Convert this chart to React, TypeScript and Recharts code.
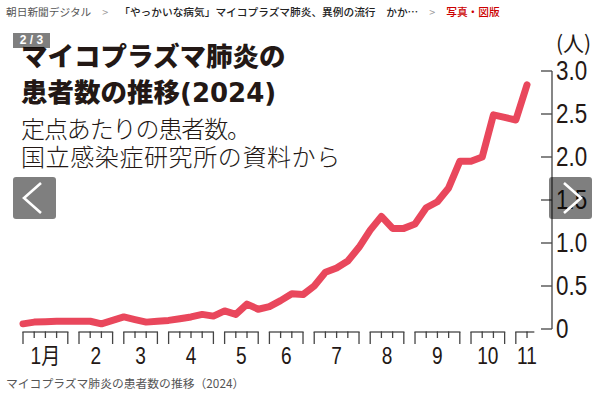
import { LineChart, Line, XAxis, YAxis } from "recharts"

// weekly surveillance, 2024 (week number -> patients per sentinel site)
const weeks = [
  1, 2, 3, 4, 5, 6, 7, 8, 9, 10, 11, 12, 13, 14, 15, 16, 17, 18, 19, 20, 21, 22, 23,
  24, 25, 26, 27, 28, 29, 30, 31, 32, 33, 34, 35, 36, 37, 38, 39, 40, 41, 42, 43, 44,
  45, 46,
]
const patients = [
  0.06, 0.08, 0.085, 0.09, 0.09, 0.09, 0.09, 0.06, 0.1, 0.14, 0.11, 0.08, 0.09, 0.1,
  0.12, 0.14, 0.17, 0.15, 0.21, 0.17, 0.29, 0.23, 0.26, 0.33, 0.41, 0.4, 0.5, 0.66,
  0.71, 0.79, 0.95, 1.15, 1.31, 1.17, 1.17, 1.22, 1.41, 1.48, 1.64, 1.95, 1.95, 2.0,
  2.49, 2.46, 2.43, 2.84,
]
const monthLabels = ["1月", "2", "3", "4", "5", "6", "7", "8", "9", "10", "11"]
const weeksInMonth = [5, 4, 4, 5, 4, 4, 5, 4, 5, 4, 2]
const yTicks = [0, 0.5, 1, 1.5, 2, 2.5, 3]

const chartData = weeks.map((week, i) => ({ week, patients: patients[i] }))

// which month / position inside the month each week belongs to
const weekMonth: { month: number; pos: number }[] = []
weeksInMonth.forEach((n, m) => {
  for (let p = 0; p < n; p++) weekMonth.push({ month: m, pos: p })
})

const W = 597
const H = 394
const MARGIN = { top: 71, right: 0, bottom: 25, left: 23 }
const Y_AXIS_W = 45
const X_MAX = 48.23
const STEP = (W - MARGIN.left - MARGIN.right - Y_AXIS_W) / (X_MAX - 1)

const INK = "#231815"
const SANS = '"Liberation Sans", Arial, "Noto Sans CJK JP", sans-serif'
const JP = '"Noto Sans CJK JP", "Noto Sans", sans-serif'

// condensed look: regular sans squeezed horizontally
function NarrowText({ x, y, size, anchor, children }: any) {
  return (
    <text
      transform={`translate(${x},${y}) scale(0.83,1)`}
      textAnchor={anchor}
      dominantBaseline="central"
      stroke="none"
      fill={INK}
      fontSize={size}
      fontFamily={SANS}
    >
      {children}
    </text>
  )
}

function WeekTick(props: any) {
  const { x, y, payload } = props
  const idx = weeks.indexOf(payload.value)
  if (idx < 0) return <g />
  const { month, pos } = weekMonth[idx]
  const count = weeksInMonth[month]
  const open = month === weeksInMonth.length - 1
  const isEdge = pos === 0 || (pos === count - 1 && !open)
  const top = y + 3

  let hx2 = x
  if (pos < count - 1) hx2 = x + STEP
  else if (open) hx2 = x + STEP * 0.6

  const labelX = x + STEP * ((open ? count : count - 1) / 2)

  return (
    <g stroke="#444" strokeWidth={1.3}>
      <line x1={x} x2={x} y1={top} y2={top + (isEdge ? 12 : 6)} />
      {hx2 > x && <line x1={x - 0.6} x2={hx2 + 0.6} y1={top} y2={top} />}
      {pos === 0 && (
        <NarrowText x={labelX} y={y + 27} size={23} anchor="middle">
          {monthLabels[month]}
        </NarrowText>
      )}
    </g>
  )
}

function ValueTick(props: any) {
  const { x, y, payload } = props
  const v = payload.value as number
  const axisX = x - 4
  return (
    <g>
      <line x1={axisX - 11} x2={axisX} y1={y} y2={y} stroke="#444" strokeWidth={1.3} />
      <NarrowText x={axisX + 4} y={y} size={27} anchor="start">
        {v === 0 ? "0" : v.toFixed(1)}
      </NarrowText>
    </g>
  )
}

function NavButton({ left, dir }: { left: number; dir: "prev" | "next" }) {
  const pts = dir === "prev" ? "28,6 11,21 28,36" : "15,6 32,21 15,36"
  return (
    <div
      style={{
        position: "absolute",
        left,
        top: 177,
        width: 43,
        height: 42,
        borderRadius: 3,
        background: "rgba(0,0,0,0.5)",
      }}
    >
      <svg width={43} height={42}>
        <polyline points={pts} fill="none" stroke="#fff" strokeWidth={2.6} />
      </svg>
    </div>
  )
}

export default function App() {
  return (
    <div style={{ position: "relative", width: W, height: H, background: "#fff", overflow: "hidden" }}>
      <style>{`body{margin:0}`}</style>

      {/* breadcrumb */}
      <div
        style={{
          position: "absolute",
          left: 6,
          top: 4,
          fontFamily: JP,
          fontSize: 10.7,
          lineHeight: "16px",
          whiteSpace: "nowrap",
          color: "#555",
        }}
      >
        <span>朝日新聞デジタル</span>
        <span style={{ margin: "0 11px", color: "#999" }}>&gt;</span>
        <span style={{ color: "#222", fontWeight: 500 }}>
          「やっかいな病気」マイコプラズマ肺炎、異例の流行　かか…
        </span>
        <span style={{ margin: "0 11px", color: "#999" }}>&gt;</span>
        <span style={{ color: "#c00", fontWeight: 500 }}>写真・図版</span>
      </div>

      {/* title block */}
      <div
        style={{
          position: "absolute",
          left: 21,
          top: 37,
          fontFamily: JP,
          color: INK,
          whiteSpace: "nowrap",
        }}
      >
        <div style={{ fontSize: 26.5, fontWeight: 900, lineHeight: "36px" }}>マイコプラズマ肺炎の</div>
        <div style={{ fontSize: 26.5, fontWeight: 900, lineHeight: "36px" }}>
          患者数の推移
          <span style={{ fontFamily: '"DejaVu Sans", sans-serif', fontWeight: 700, fontSize: 26 }}>
            (2024)
          </span>
        </div>
        <div style={{ fontSize: 24, fontWeight: 300, lineHeight: "28px", marginTop: 3, letterSpacing: -1.1 }}>
          定点あたりの患者数。
        </div>
        <div style={{ fontSize: 24, fontWeight: 300, lineHeight: "28px", letterSpacing: 0.6 }}>
          国立感染症研究所の資料から
        </div>
      </div>

      <div
        style={{
          position: "absolute",
          left: 13,
          top: 33,
          width: 37,
          height: 15,
          background: "rgba(0,0,0,0.5)",
          color: "#fff",
          fontFamily: SANS,
          fontSize: 12,
          fontWeight: 700,
          lineHeight: "15px",
          textAlign: "center",
        }}
      >
        2 / 3
      </div>

      {/* unit */}
      <div
        style={{
          position: "absolute",
          left: 556,
          top: 29,
          fontFamily: JP,
          fontSize: 21,
          color: INK,
          lineHeight: "26px",
        }}
      >
        (人)
      </div>

      <div style={{ position: "absolute", left: 0, top: 0 }}>
        <LineChart width={W} height={H} data={chartData} margin={MARGIN}>
          <XAxis
            dataKey="week"
            type="number"
            domain={[1, X_MAX]}
            ticks={weeks}
            interval={0}
            axisLine={false}
            tickLine={false}
            tickSize={0}
            tickMargin={0}
            height={40}
            tick={<WeekTick />}
          />
          <YAxis
            orientation="right"
            domain={[0, 3]}
            ticks={yTicks}
            interval={0}
            width={Y_AXIS_W}
            axisLine={{ stroke: "#444", strokeWidth: 1.3 }}
            tickLine={false}
            tickSize={0}
            tickMargin={4}
            tick={<ValueTick />}
          />
          <Line
            dataKey="patients"
            stroke="#e9475c"
            strokeWidth={7}
            strokeLinejoin="round"
            strokeLinecap="round"
            dot={false}
            isAnimationActive={false}
          />
        </LineChart>
      </div>

      <NavButton left={13} dir="prev" />
      <NavButton left={549} dir="next" />

      {/* caption */}
      <div
        style={{
          position: "absolute",
          left: 6,
          top: 375,
          fontFamily: JP,
          fontSize: 11.8,
          color: "#555",
          whiteSpace: "nowrap",
          lineHeight: "16px",
        }}
      >
        マイコプラズマ肺炎の患者数の推移（2024）
      </div>
    </div>
  )
}
